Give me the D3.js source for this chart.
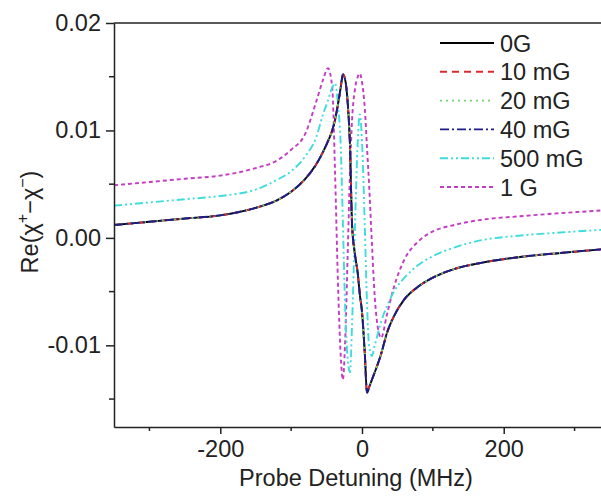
<!DOCTYPE html>
<html>
<head>
<meta charset="utf-8">
<script src="https://cdn.jsdelivr.net/npm/d3@7"></script>
<style>
  body { margin: 0; background: #fff; }
  svg text { font-family: "Liberation Sans", Arial, sans-serif; fill: #222; }
</style>
</head>
<body>
<svg id="chart"></svg>
<script>
// detuning grid (MHz), denser round the resonance
const detuning = [-350, -300, -250, -200, -150, -120, -100, -80, -65, -55, -48, -42, -38, -34, -30, -27, -24, -20, -17, -14,
  -10, -6, -3, 0, 4, 7, 10, 14, 18, 22, 27, 35, 45, 60, 80, 100, 130, 170, 220, 280, 350];

// Re(chi+ - chi-)
const g0 = [0.0012, 0.0015, 0.0018, 0.0021, 0.0028, 0.0035, 0.0043, 0.0055, 0.0068, 0.0080, 0.0090, 0.0100, 0.0110, 0.0124, 0.0140, 0.0152, 0.0148, 0.0124, 0.0087, 0.0012,
  -0.0015, -0.0033, -0.0053, -0.0069, -0.0108, -0.0144, -0.0139, -0.0132, -0.0125, -0.0118, -0.0108, -0.0089, -0.0073, -0.0057, -0.0045, -0.0037, -0.0029, -0.0023, -0.0018, -0.0014, -0.0010];
const mG10 = g0;
const mG20 = g0;
const mG40 = g0;
const mG500 = [0.0030, 0.0033, 0.0036, 0.0039, 0.0045, 0.0054, 0.0062, 0.0076, 0.0093, 0.0115, 0.0128, 0.0140, 0.0144, 0.0125, 0.0085, 0.0015, -0.0060, -0.0115, -0.0125, -0.0080,
  0.0010, 0.0090, 0.0115, 0.0090, 0.0010, -0.0060, -0.0100, -0.0110, -0.0100, -0.0090, -0.0078, -0.0064, -0.0050, -0.0037, -0.0025, -0.0017, -0.0009, -0.0002, 0.0002, 0.0005, 0.0008];
const G1 = [0.0049, 0.0052, 0.0055, 0.0058, 0.0065, 0.0072, 0.0082, 0.0097, 0.0126, 0.0147, 0.0158, 0.0140, 0.0060, -0.0040, -0.0110, -0.0132, -0.0100, -0.0010, 0.0060, 0.0110,
  0.0138, 0.0150, 0.0153, 0.0145, 0.0120, 0.0085, 0.0050, -0.0005, -0.0055, -0.0082, -0.0093, -0.0072, -0.0046, -0.0020, -0.0003, 0.0006, 0.0012, 0.0017, 0.0020, 0.0023, 0.0026];

const seriesNames = ["0G", "10 mG", "20 mG", "40 mG", "500 mG", "1 G"];
const seriesValues = [g0, mG10, mG20, mG40, mG500, G1];
const seriesColors = ["#000000", "#e02828", "#6fd36f", "#1c1c8a", "#3fdcdc", "#c43cc4"];
const seriesDashes = ["none", "7,5", "2,4", "9,3,2,3", "8,3,2,3,2,3", "4,3"];

const xTicks = [-200, 0, 200];
const xMinor = [-300, -100, 100, 300];
const yTicks = [-0.01, 0.00, 0.01, 0.02];
const yMinor = [-0.015, -0.005, 0.005, 0.015];

const width = 601, height = 499;
const margin = { top: 23, left: 114, bottom: 72, right: -9 };
const fontSize = 23.5;

const svg = d3.select("#chart").attr("width", width).attr("height", height);

const x = d3.scaleLinear().domain([-350, 350]).range([margin.left, width - margin.right]);
const y = d3.scaleLinear().domain([-0.0176, 0.02]).range([height - margin.bottom, margin.top]);

const fmtY = d => d3.format(".2f")(d).replace("\u2212", "-");
const fmtX = d => String(d);

// frame
svg.append("line")
  .attr("x1", margin.left).attr("x2", width)
  .attr("y1", margin.top).attr("y2", margin.top)
  .attr("stroke", "#222").attr("stroke-width", 1.5);

// curves (coloured ones drawn under, field-free family on top)
const line = d3.line()
  .x((d, i) => x(detuning[i]))
  .y(d => y(d))
  .curve(d3.curveMonotoneX);

const drawOrder = [5, 4, 0, 1, 2, 3];
drawOrder.forEach(k => {
  svg.append("path")
    .datum(seriesValues[k])
    .attr("d", line)
    .attr("fill", "none")
    .attr("stroke", seriesColors[k])
    .attr("stroke-width", 1.9)
    .attr("stroke-dasharray", seriesDashes[k]);
});

// axes
const xAxis = svg.append("g")
  .attr("transform", `translate(0,${height - margin.bottom})`)
  .call(d3.axisBottom(x).tickValues(xTicks).tickFormat(fmtX).tickSizeInner(7).tickSizeOuter(0).tickPadding(6));
xAxis.selectAll(".minor").data(xMinor).join("line")
  .attr("class", "minor")
  .attr("x1", d => x(d)).attr("x2", d => x(d))
  .attr("y1", 0).attr("y2", 4);

const yAxis = svg.append("g")
  .attr("transform", `translate(${margin.left},0)`)
  .call(d3.axisLeft(y).tickValues(yTicks).tickFormat(fmtY).tickSizeInner(8).tickSizeOuter(0).tickPadding(5));
yAxis.selectAll(".minor").data(yMinor).join("line")
  .attr("class", "minor")
  .attr("x1", 0).attr("x2", -5)
  .attr("y1", d => y(d)).attr("y2", d => y(d));

[xAxis, yAxis].forEach(a => {
  a.select(".domain").attr("stroke", "#222").attr("stroke-width", 1.5);
  a.selectAll("line").attr("stroke", "#222").attr("stroke-width", 1.5);
  a.selectAll("text").attr("font-size", fontSize).attr("font-family", "Liberation Sans, Arial, sans-serif").attr("fill", "#222");
});

// axis titles
svg.append("text")
  .attr("x", 356).attr("y", 486)
  .attr("text-anchor", "middle")
  .attr("font-size", fontSize)
  .text("Probe Detuning (MHz)");

const yl = svg.append("text")
  .attr("transform", "translate(38,222) rotate(-90)")
  .attr("text-anchor", "middle")
  .attr("font-size", fontSize);
yl.append("tspan").text("Re(\u03c7");
yl.append("tspan").attr("dy", -10).attr("font-size", 16).text("+");
yl.append("tspan").attr("dy", 10).text("\u2212\u03c7");
yl.append("tspan").attr("dy", -10).attr("font-size", 16).text("\u2212");
yl.append("tspan").attr("dy", 10).text(")");

// legend
const legend = svg.append("g");
seriesNames.forEach((name, i) => {
  const ly = 43 + i * 28.8;
  legend.append("line")
    .attr("x1", 440).attr("x2", 494)
    .attr("y1", ly).attr("y2", ly)
    .attr("stroke", seriesColors[i])
    .attr("stroke-width", 1.9)
    .attr("stroke-dasharray", seriesDashes[i]);
  legend.append("text")
    .attr("x", 500).attr("y", ly + 8.5)
    .attr("font-size", fontSize)
    .text(name);
});
</script>
</body>
</html>
